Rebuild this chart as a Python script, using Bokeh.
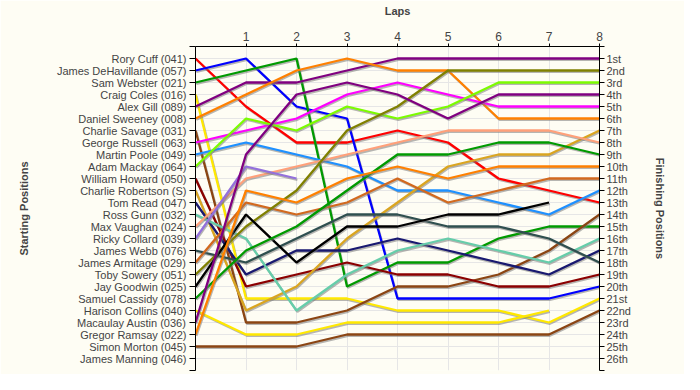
from bokeh.plotting import figure
from bokeh.models import Range1d, LinearAxis, FixedTicker
from bokeh.embed import file_html
from bokeh.resources import INLINE

# ---------------- data ----------------
laps = [0, 1, 2, 3, 4, 5, 6, 7, 8]
lap_ticks = [1, 2, 3, 4, 5, 6, 7, 8]

start_names = [
    "Rory Cuff (041)", "James DeHavillande (057)", "Sam Webster (021)", "Craig Coles (016)",
    "Alex Gill (089)", "Daniel Sweeney (008)", "Charlie Savage (031)", "George Russell (063)",
    "Martin Poole (049)", "Adam Mackay (064)", "William Howard (050)", "Charlie Robertson (S)",
    "Tom Read (047)", "Ross Gunn (032)", "Max Vaughan (024)", "Ricky Collard (039)",
    "James Webb (076)", "James Armitage (029)", "Toby Sowery (051)", "Jay Goodwin (025)",
    "Samuel Cassidy (078)", "Harison Collins (040)", "Macaulay Austin (036)",
    "Gregor Ramsay (022)", "Simon Morton (045)", "James Manning (046)",
]

finish_labels = [
    "1st", "2nd", "3rd", "4th", "5th", "6th", "7th", "8th", "9th", "10th", "11th", "12th", "13th",
    "14th", "15th", "16th", "17th", "18th", "19th", "20th", "21st", "22nd", "23rd", "24th",
    "25th", "26th",
]

# race position of each driver after each lap (None = not running)
rory_cuff = [1, 5, 8, 8, 7, 8, 11, 12, 13]
james_dehavillande = [2, 1, 5, 6, 21, 21, 21, 21, 20]
sam_webster = [3, 2, 1, 20, 18, 18, 16, 15, 15]
craig_coles = [4, 21, 21, 21, 22, 22, 22, 23, 21]
alex_gill = [5, 3, 3, 2, 1, 1, 1, 1, 1]
daniel_sweeney = [6, 4, 2, 1, 2, 2, 6, 6, 6]
charlie_savage = [7, 23, 23, 22, 20, 20, 19, 17, 14]
george_russell = [8, 7, 6, 4, 3, 4, 5, 5, 5]
martin_poole = [9, 8, 9, 10, 12, 12, 13, 14, 12]
adam_mackay = [10, 6, 7, 5, 6, 5, 3, 3, 3]
william_howard = [11, 20, 19, 18, 19, 19, 20, 20, 19]
charlie_robertson = [12, 22, 20, 16, 13, 10, 9, 9, 7]
tom_read = [13, 19, 17, 17, 16, 17, 18, 19, 17]
ross_gunn = [14, 16, 22, 19, 17, 16, 17, 18, 16]
max_vaughan = [15, 11, 10, 9, 8, 7, 7, 7, 8]
ricky_collard = [16, 10, 11, None, None, None, None, None, None]
james_webb = [17, 18, 16, 14, 14, 15, 15, 16, 18]
james_armitage = [18, 13, 14, 13, 11, 13, 12, 11, 11]
toby_sowery = [19, 15, 12, 7, 5, 2, 2, 2, 2]
jay_goodwin = [20, 14, 18, 15, 15, 14, 14, 13, None]
samuel_cassidy = [21, 17, 15, 12, 9, 9, 8, 8, 9]
harison_collins = [22, 24, 24, 23, 23, 23, 23, 22, None]
macaulay_austin = [23, 9, 4, 3, 4, 6, 4, 4, 4]
gregor_ramsay = [24, 12, 13, 11, 10, 11, 10, 10, 10]
simon_morton = [25, 25, 25, 24, 24, 24, 24, 24, 22]
james_manning = [None] * 9

series = [
    rory_cuff, james_dehavillande, sam_webster, craig_coles, alex_gill, daniel_sweeney,
    charlie_savage, george_russell, martin_poole, adam_mackay, william_howard,
    charlie_robertson, tom_read, ross_gunn, max_vaughan, ricky_collard, james_webb,
    james_armitage, toby_sowery, jay_goodwin, samuel_cassidy, harison_collins,
    macaulay_austin, gregor_ramsay, simon_morton, james_manning,
]

colors = [
    "#FF0000", "#0000FF", "#009A00", "#FFE800", "#800080", "#FF8000", "#8B4513", "#FF00FF",
    "#1E90FF", "#7CFC00", "#8B0000", "#DAA520", "#191970", "#66CDAA", "#FFA07A", "#9370DB",
    "#2F4F4F", "#D2691E", "#808000", "#000000", "#009A00", "#FFE800", "#800080", "#FF8000",
    "#8B4513", "#000000",
]

# ---------------- figure ----------------
BG = "#FEFDF4"
FONT = "Liberation Sans"

p = figure(
    width=684, height=374,
    x_range=Range1d(0, 8), y_range=Range1d(27, 0),
    x_axis_location="above", y_axis_location="left",
    output_backend="svg", toolbar_location=None,
    min_border_left=195, min_border_right=85, min_border_top=46, min_border_bottom=4,
    background_fill_color=BG, border_fill_color=BG,
)
p.outline_line_color = None

all_ticks = list(range(0, 28))
left_over = {i: "" for i in all_ticks}
right_over = {i: "" for i in all_ticks}
for i, n in enumerate(start_names):
    left_over[i + 1] = n
for i, n in enumerate(finish_labels):
    right_over[i + 1] = n

# top axis (laps)
xa = p.xaxis[0]
xa.ticker = FixedTicker(ticks=lap_ticks)
xa.axis_label = "Laps"
xa.axis_label_text_font = FONT
xa.axis_label_text_font_style = "bold"
xa.axis_label_text_font_size = "11px"
xa.axis_label_standoff = 12
xa.major_label_text_font = FONT
xa.major_label_text_font_size = "12px"
xa.major_label_standoff = 3
xa.major_tick_out = 3
xa.major_tick_in = 0
xa.minor_tick_out = 0
xa.minor_tick_in = 0
xa.axis_line_color = "black"

# left axis (starting positions)
ya = p.yaxis[0]
ya.ticker = FixedTicker(ticks=all_ticks)
ya.major_label_overrides = left_over
ya.axis_label = "Starting Positions"
ya.axis_label_text_font = FONT
ya.axis_label_text_font_style = "bold"
ya.axis_label_text_font_size = "11px"
ya.axis_label_standoff = 24
ya.major_label_text_font = FONT
ya.major_label_text_font_size = "11px"
ya.major_label_standoff = 3
ya.major_tick_out = 6
ya.major_tick_in = 0
ya.minor_tick_out = 0
ya.minor_tick_in = 0

# right axis (finishing positions)
ra = LinearAxis(ticker=FixedTicker(ticks=all_ticks))
ra.major_label_overrides = right_over
ra.axis_label = "Finishing Positions"
ra.axis_label_text_font = FONT
ra.axis_label_text_font_style = "bold"
ra.axis_label_text_font_size = "11px"
ra.axis_label_standoff = 20
ra.major_label_text_font = FONT
ra.major_label_text_font_size = "11px"
ra.major_label_standoff = 2
ra.major_tick_out = 5
ra.major_tick_in = 0
ra.minor_tick_out = 0
ra.minor_tick_in = 0
p.add_layout(ra, "right")

p.ygrid.ticker = FixedTicker(ticks=list(range(1, 28)))
p.ygrid.grid_line_color = "#E6E6E6"
p.xgrid.ticker = FixedTicker(ticks=lap_ticks[:-1])
p.xgrid.grid_line_color = "#E6E6E6"

DX = 0.018
DY = 0.11
for pos, col in zip(series, colors):
    xs = [l for l, v in zip(laps, pos) if v is not None]
    ys = [v for v in pos if v is not None]
    if not xs:
        continue
    p.line([x + DX for x in xs], [y + DY for y in ys], line_color="#7A7A7A",
           line_alpha=0.55, line_width=2.2)
    p.line(xs, ys, line_color=col, line_width=2.3)

open("out.html", "w").write(file_html(p, INLINE))
